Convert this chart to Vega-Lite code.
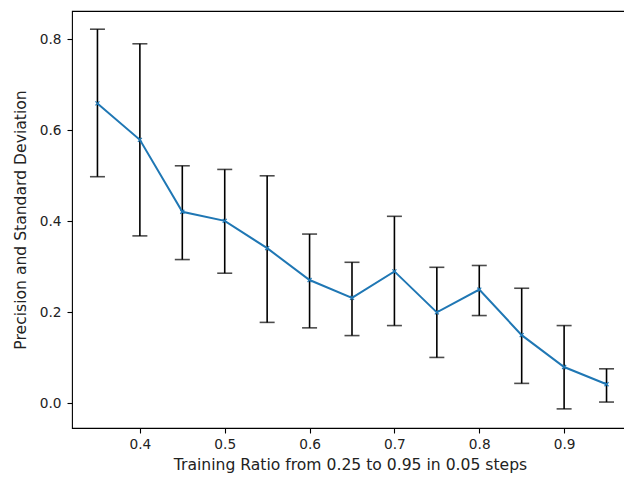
{
  "$schema": "https://vega.github.io/schema/vega-lite/v6.json",
  "autosize": {"type": "none"},
  "padding": {"left": 72, "top": 11, "right": 0, "bottom": 50},
  "width": 556,
  "height": 417,
  "background": "white",
  "config": {
    "view": {"stroke": "black", "strokeWidth": 1.1},
    "axis": {
      "grid": false,
      "domain": false,
      "tickColor": "black",
      "tickSize": 5,
      "tickWidth": 1.1,
      "labelColor": "#222",
      "titleColor": "#222",
      "labelFont": "DejaVu Sans",
      "titleFont": "DejaVu Sans",
      "labelFontSize": 13.7,
      "titleFontSize": 15.6,
      "titleFontWeight": "normal",
      "labelPadding": 4
    }
  },
  "data": {
    "values": [
      {"x": 0.35, "y": 0.659, "lo": 0.498, "hi": 0.822},
      {"x": 0.40, "y": 0.579, "lo": 0.368, "hi": 0.790},
      {"x": 0.45, "y": 0.421, "lo": 0.316, "hi": 0.522},
      {"x": 0.50, "y": 0.401, "lo": 0.286, "hi": 0.514},
      {"x": 0.55, "y": 0.341, "lo": 0.178, "hi": 0.500},
      {"x": 0.60, "y": 0.271, "lo": 0.166, "hi": 0.372},
      {"x": 0.65, "y": 0.232, "lo": 0.149, "hi": 0.310},
      {"x": 0.70, "y": 0.290, "lo": 0.171, "hi": 0.411},
      {"x": 0.75, "y": 0.200, "lo": 0.101, "hi": 0.299},
      {"x": 0.80, "y": 0.250, "lo": 0.193, "hi": 0.303},
      {"x": 0.85, "y": 0.150, "lo": 0.044, "hi": 0.253},
      {"x": 0.90, "y": 0.080, "lo": -0.012, "hi": 0.171},
      {"x": 0.95, "y": 0.042, "lo": 0.003, "hi": 0.076}
    ]
  },
  "encoding": {
    "x": {
      "field": "x", "type": "quantitative",
      "scale": {"domain": [0.32, 0.9753], "nice": false, "zero": false},
      "axis": {"values": [0.4, 0.5, 0.6, 0.7, 0.8, 0.9], "format": ".1f", "title": "Training Ratio from 0.25 to 0.95 in 0.05 steps", "titlePadding": 7}
    }
  },
  "layer": [
    {
      "mark": {"type": "rule", "color": "black", "strokeWidth": 1.6},
      "encoding": {
        "y": {"field": "lo", "type": "quantitative",
          "scale": {"domain": [-0.054, 0.862], "nice": false, "zero": false},
          "axis": {"values": [0, 0.2, 0.4, 0.6, 0.8], "format": ".1f", "title": "Precision and Standard Deviation", "titlePadding": 11, "labelPadding": 6}},
        "y2": {"field": "hi"}
      }
    },
    {
      "mark": {"type": "tick", "orient": "horizontal", "color": "black", "size": 15, "thickness": 1.6},
      "encoding": {"y": {"field": "lo", "type": "quantitative"}}
    },
    {
      "mark": {"type": "tick", "orient": "horizontal", "color": "black", "size": 15, "thickness": 1.6},
      "encoding": {"y": {"field": "hi", "type": "quantitative"}}
    },
    {
      "mark": {"type": "line", "color": "#1f77b4", "strokeWidth": 2},
      "encoding": {"y": {"field": "y", "type": "quantitative"}}
    },
    {
      "mark": {"type": "point", "shape": "M-1,-1L1,1M-1,1L1,-1", "size": 16, "stroke": "#1f77b4", "strokeWidth": 1.2, "filled": false, "opacity": 1},
      "encoding": {"y": {"field": "y", "type": "quantitative"}}
    }
  ]
}
